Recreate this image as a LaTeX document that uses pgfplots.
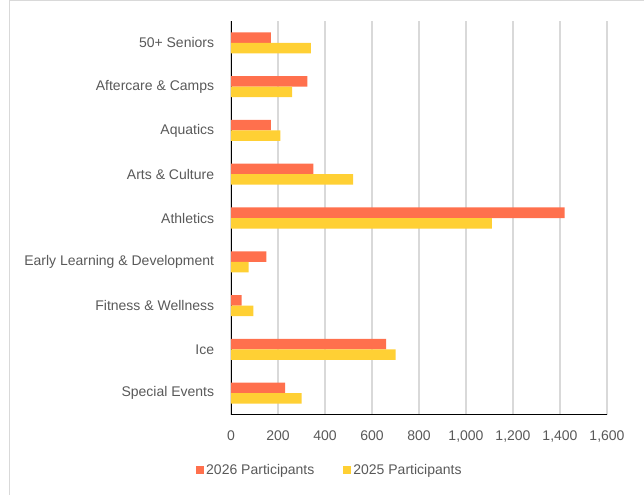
\documentclass[border=0pt]{standalone}
\usepackage{pgfplots}
\pgfplotsset{compat=1.18}
\usepackage{fontspec}
\setmainfont{Liberation Sans}
\definecolor{c26}{RGB}{255,112,77}
\definecolor{c25}{RGB}{255,208,52}
\definecolor{txt}{RGB}{89,89,89}
\definecolor{grd}{RGB}{217,217,217}
\begin{document}
\fontsize{14bp}{17bp}\selectfont
\begin{tikzpicture}
\path[use as bounding box] (0,0) rectangle (644bp,495bp);
\draw[grd, line width=1bp] (9.5bp,0) -- (9.5bp,494bp) -- (644bp,494bp);
\begin{axis}[
  at={(231bp,80bp)}, anchor=south west, scale only axis,
  width=376bp, height=394bp,
  xbar, bar width=0.24, bar shift=0pt,
  xmin=0, xmax=1600, ymin=-0.5, ymax=8.5,
  xtick={0,200,...,1600}, ytick={0,...,8},
  yticklabels={Special Events, Ice, Fitness \& Wellness, Early Learning \& Development, Athletics, Arts \& Culture, Aquatics, Aftercare \& Camps, 50+ Seniors},
  axis x line*=bottom, axis y line*=left,
  axis line style={black, line width=1bp},
  xmajorgrids, grid style={grd, line width=1.1bp},
  major tick length=0pt,
  /pgf/number format/assume math mode=true,
  /pgf/number format/1000 sep={,},
  ticklabel style={font=\fontsize{14bp}{17bp}\selectfont, text=txt},
  yticklabel style={xshift=-12bp},
  xticklabel style={yshift=-11bp},
  legend columns=2,
  legend style={at={(0.263,-0.14)}, anchor=center, draw=none, fill=none,
    font=\fontsize{14bp}{17bp}\selectfont, text=txt,
    nodes={inner xsep=2.5bp},
    /tikz/every even column/.append style={column sep=26bp}},
  legend image code/.code={\fill (0bp,-4bp) rectangle (8bp,4bp);},
]
\addplot[draw=none, fill=c26] coordinates {
 (170,8.12) (325,7.12) (170,6.12) (350,5.12) (1420,4.12) (150,3.12) (45,2.12) (660,1.12) (230,0.12)};
\addlegendentry{2026 Participants}
\addplot[draw=none, fill=c25] coordinates {
 (340,7.88) (260,6.88) (210,5.88) (520,4.88) (1110,3.88) (75,2.88) (95,1.88) (700,0.88) (300,-0.12)};
\addlegendentry{2025 Participants}
\end{axis}
\end{tikzpicture}
\end{document}
